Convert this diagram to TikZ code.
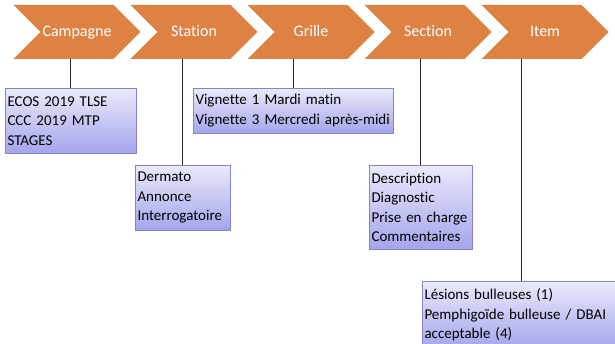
\documentclass[tikz,border=0pt]{standalone}
\usepackage{fontspec}
\setmainfont[Ligatures=NoCommon]{Carlito}
\usetikzlibrary{shapes,positioning,shadows}
\definecolor{chevorange}{HTML}{DE8244}
\definecolor{boxtop}{HTML}{EAEAFB}
\definecolor{boxbot}{HTML}{A4A4EC}
\definecolor{boxline}{HTML}{8484C8}
\tikzset{
  chev/.style   = { signal, signal to=east, signal from=west, fill=chevorange,
    text=white, minimum width=127pt, minimum height=54pt, inner sep=0pt,
    text height=12pt, text depth=3pt, font=\fontsize{16}{19}\selectfont },
  infobox/.style = { draw=boxline, top color=boxtop, bottom color=boxbot,
    align=left, anchor=north, inner sep=2.5pt, text width=#1,
    font=\fontsize{15}{19.5}\selectfont,
    drop shadow={opacity=0.2, shadow xshift=1pt, shadow yshift=-1pt} },
  lnk/.style    = { draw=black!85, line width=1pt }
}

\begin{document}
\begin{tikzpicture}[x=1pt,y=-1pt,node distance=117pt,on grid]
    \clip (0,0) rectangle (615,344);
    \node[chev] (s0) at (77,32) {Campagne};
    \node[chev, right=of s0] (s1) {Station};
    \node[chev, right=of s1] (s2) {Grille};
    \node[chev, right=of s2] (s3) {Section};
    \node[chev, right=of s3] (s4) {Item};

    \node[infobox=126pt, minimum height=65pt] (b0) at (70.5,88)
      {ECOS 2019 TLSE\\CCC 2019 MTP\\STAGES};
    \node[infobox=90pt, minimum height=65pt] (b1) at (182.5,165)
      {Dermato\\Annonce\\Interrogatoire};
    \node[infobox=195pt, minimum height=45pt] (b2) at (293,88)
      {Vignette 1 Mardi matin\\Vignette 3 Mercredi après-midi};
    \node[infobox=98pt, minimum height=84pt] (b3) at (420.5,165)
      {Description\\Diagnostic\\Prise en charge\\Commentaires};
    \node[infobox=193pt, minimum height=68pt] (b4) at (521,281)
      {Lésions bulleuses (1)\\Pemphigoïde bulleuse / DBAI\\acceptable (4)};

    \path[lnk] (b0.north) -- (b0.north |- s0.south);
    \path[lnk] (b1.north) -- (b1.north |- s1.south);
    \path[lnk] (b2.north) -- (b2.north |- s2.south);
    \path[lnk] (b3.north) -- (b3.north |- s3.south);
    \path[lnk] (b4.north) -- (b4.north |- s4.south);
\end{tikzpicture}
\end{document}
